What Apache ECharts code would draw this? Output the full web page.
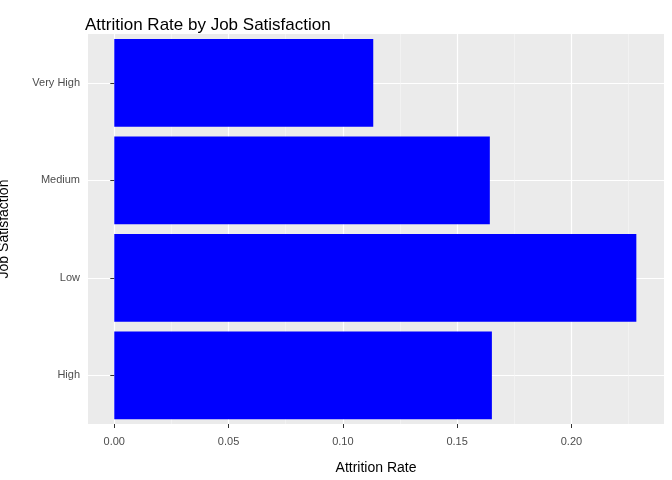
<!DOCTYPE html>
<html>
<head>
<script src="https://cdn.jsdelivr.net/npm/echarts@6/dist/echarts.min.js"></script>
<style>body{margin:0}#c{width:672px;height:480px}</style>
</head>
<body>
<div id="c"></div>
<script>
const categories = ['High', 'Low', 'Medium', 'Very High'];
const attritionRate = [0.1652, 0.2284, 0.1643, 0.1133];
const majorTicks = [0, 0.05, 0.1, 0.15, 0.2];
const minorTicks = [0.025, 0.075, 0.125, 0.175, 0.225];

const chart = echarts.init(document.getElementById('c'));
const font = 'Liberation Sans, Arial, sans-serif';
chart.setOption({
  animation: false,
  title: { text: 'Attrition Rate by Job Satisfaction', left: 80, top: 6,
    textStyle: { fontFamily: font, fontSize: 17, fontWeight: 'normal', color: '#000' } },
  grid: { left: 88, right: 8, top: 34, bottom: 56, show: true, backgroundColor: '#EBEBEB', borderWidth: 0,
    containLabel: false, outerBoundsMode: 'none' },
  xAxis: [{
    type: 'value', min: -0.0115, max: 0.2405,
    name: 'Attrition Rate', nameLocation: 'middle', nameGap: 27,
    nameTextStyle: { fontFamily: font, fontSize: 14, color: '#000' },
    axisLine: { show: false },
    axisTick: { show: true, length: 4, lineStyle: { color: '#333' }, customValues: majorTicks },
    axisLabel: { customValues: majorTicks, fontFamily: font, fontSize: 11, color: '#4D4D4D', margin: 8,
      formatter: v => v.toFixed(2) },
    splitLine: { show: true, lineStyle: { color: '#fff', width: 1.2 } }
  }, {
    type: 'value', min: -0.0115, max: 0.2405, position: 'bottom',
    axisLine: { show: false }, axisTick: { show: false, customValues: minorTicks },
    axisLabel: { show: false, customValues: minorTicks },
    splitLine: { show: true, lineStyle: { color: '#F7F7F7', width: 0.6 } }
  }],
  yAxis: {
    type: 'category', data: categories,
    name: 'Job Satisfaction', nameLocation: 'middle', nameGap: 72, nameRotate: 90,
    nameTextStyle: { fontFamily: font, fontSize: 14, color: '#000' },
    axisLine: { show: false },
    axisTick: { show: true, alignWithLabel: true, length: 4, lineStyle: { color: '#333' } },
    axisLabel: { fontFamily: font, fontSize: 11, color: '#4D4D4D', margin: 8 },
    splitLine: { show: true, alignWithLabel: true, lineStyle: { color: '#fff', width: 1.2 } }
  },
  series: [{
    type: 'bar', data: attritionRate, barCategoryGap: '10%',
    itemStyle: { color: '#0000FF' }
  }]
});
</script>
</body>
</html>
